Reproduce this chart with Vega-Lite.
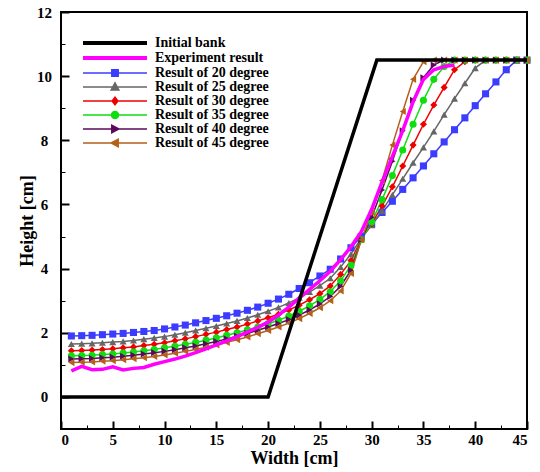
{
"$schema": "https://vega.github.io/schema/vega-lite/v6.json",
"width": 466, "height": 417,
"autosize": "none",
"padding": {"left": 61, "top": 12, "right": 13, "bottom": 43},
"background": "white",
"config": {"view": {"stroke": "black", "strokeWidth": 2}, "font": "Liberation Serif"},
"datasets": {
"bank": [{"s":"Initial bank","x":0,"y":0},{"s":"Initial bank","x":20,"y":0},{"s":"Initial bank","x":30.5,"y":10.5},{"s":"Initial bank","x":45,"y":10.5}],
"exp": [
{"s":"Experiment result","x":1,"y":0.81},{"s":"Experiment result","x":2,"y":0.95},{"s":"Experiment result","x":3,"y":0.85},{"s":"Experiment result","x":4,"y":0.86},{"s":"Experiment result","x":5,"y":0.94},{"s":"Experiment result","x":6,"y":0.84},{"s":"Experiment result","x":7,"y":0.89},{"s":"Experiment result","x":8,"y":0.92},{"s":"Experiment result","x":9,"y":1.02},{"s":"Experiment result","x":10,"y":1.10},
{"s":"Experiment result","x":11,"y":1.18},{"s":"Experiment result","x":12,"y":1.27},{"s":"Experiment result","x":13,"y":1.38},{"s":"Experiment result","x":14,"y":1.50},{"s":"Experiment result","x":15,"y":1.62},{"s":"Experiment result","x":16,"y":1.75},{"s":"Experiment result","x":17,"y":1.88},{"s":"Experiment result","x":18,"y":2.02},{"s":"Experiment result","x":19,"y":2.17},{"s":"Experiment result","x":20,"y":2.33},
{"s":"Experiment result","x":21,"y":2.55},{"s":"Experiment result","x":22,"y":2.80},{"s":"Experiment result","x":23,"y":3.08},{"s":"Experiment result","x":24,"y":3.35},{"s":"Experiment result","x":25,"y":3.62},{"s":"Experiment result","x":26,"y":3.92},{"s":"Experiment result","x":27,"y":4.28},{"s":"Experiment result","x":28,"y":4.68},{"s":"Experiment result","x":29,"y":5.15},{"s":"Experiment result","x":30,"y":5.85},
{"s":"Experiment result","x":31,"y":6.70},{"s":"Experiment result","x":32,"y":7.50},{"s":"Experiment result","x":33,"y":8.30},{"s":"Experiment result","x":34,"y":9.20},{"s":"Experiment result","x":35,"y":9.90},{"s":"Experiment result","x":36,"y":10.20},{"s":"Experiment result","x":37,"y":10.30},{"s":"Experiment result","x":38,"y":10.35}],
"model": [
{"s":"Result of 20 degree","x":1,"y":1.90},{"s":"Result of 20 degree","x":2,"y":1.91},{"s":"Result of 20 degree","x":3,"y":1.92},{"s":"Result of 20 degree","x":4,"y":1.94},{"s":"Result of 20 degree","x":5,"y":1.96},{"s":"Result of 20 degree","x":6,"y":1.98},{"s":"Result of 20 degree","x":7,"y":2.01},{"s":"Result of 20 degree","x":8,"y":2.04},{"s":"Result of 20 degree","x":9,"y":2.07},{"s":"Result of 20 degree","x":10,"y":2.12},
{"s":"Result of 20 degree","x":11,"y":2.18},{"s":"Result of 20 degree","x":12,"y":2.24},{"s":"Result of 20 degree","x":13,"y":2.31},{"s":"Result of 20 degree","x":14,"y":2.38},{"s":"Result of 20 degree","x":15,"y":2.45},{"s":"Result of 20 degree","x":16,"y":2.53},{"s":"Result of 20 degree","x":17,"y":2.61},{"s":"Result of 20 degree","x":18,"y":2.70},{"s":"Result of 20 degree","x":19,"y":2.80},{"s":"Result of 20 degree","x":20,"y":2.92},
{"s":"Result of 20 degree","x":21,"y":3.05},{"s":"Result of 20 degree","x":22,"y":3.20},{"s":"Result of 20 degree","x":23,"y":3.38},{"s":"Result of 20 degree","x":24,"y":3.56},{"s":"Result of 20 degree","x":25,"y":3.77},{"s":"Result of 20 degree","x":26,"y":3.98},{"s":"Result of 20 degree","x":27,"y":4.30},{"s":"Result of 20 degree","x":28,"y":4.65},{"s":"Result of 20 degree","x":29,"y":5.00},{"s":"Result of 20 degree","x":30,"y":5.38},
{"s":"Result of 20 degree","x":31,"y":5.75},{"s":"Result of 20 degree","x":32,"y":6.10},{"s":"Result of 20 degree","x":33,"y":6.47},{"s":"Result of 20 degree","x":34,"y":6.83},{"s":"Result of 20 degree","x":35,"y":7.20},{"s":"Result of 20 degree","x":36,"y":7.58},{"s":"Result of 20 degree","x":37,"y":7.95},{"s":"Result of 20 degree","x":38,"y":8.33},{"s":"Result of 20 degree","x":39,"y":8.70},{"s":"Result of 20 degree","x":40,"y":9.08},
{"s":"Result of 20 degree","x":41,"y":9.45},{"s":"Result of 20 degree","x":42,"y":9.82},{"s":"Result of 20 degree","x":43,"y":10.20},{"s":"Result of 20 degree","x":44,"y":10.50},{"s":"Result of 20 degree","x":45,"y":10.50},
{"s":"Result of 25 degree","x":1,"y":1.65},{"s":"Result of 25 degree","x":2,"y":1.66},{"s":"Result of 25 degree","x":3,"y":1.67},{"s":"Result of 25 degree","x":4,"y":1.69},{"s":"Result of 25 degree","x":5,"y":1.71},{"s":"Result of 25 degree","x":6,"y":1.73},{"s":"Result of 25 degree","x":7,"y":1.76},{"s":"Result of 25 degree","x":8,"y":1.80},{"s":"Result of 25 degree","x":9,"y":1.84},{"s":"Result of 25 degree","x":10,"y":1.88},
{"s":"Result of 25 degree","x":11,"y":1.94},{"s":"Result of 25 degree","x":12,"y":2.00},{"s":"Result of 25 degree","x":13,"y":2.07},{"s":"Result of 25 degree","x":14,"y":2.14},{"s":"Result of 25 degree","x":15,"y":2.21},{"s":"Result of 25 degree","x":16,"y":2.29},{"s":"Result of 25 degree","x":17,"y":2.37},{"s":"Result of 25 degree","x":18,"y":2.46},{"s":"Result of 25 degree","x":19,"y":2.56},{"s":"Result of 25 degree","x":20,"y":2.67},
{"s":"Result of 25 degree","x":21,"y":2.79},{"s":"Result of 25 degree","x":22,"y":2.93},{"s":"Result of 25 degree","x":23,"y":3.09},{"s":"Result of 25 degree","x":24,"y":3.27},{"s":"Result of 25 degree","x":25,"y":3.47},{"s":"Result of 25 degree","x":26,"y":3.70},{"s":"Result of 25 degree","x":27,"y":4.05},{"s":"Result of 25 degree","x":28,"y":4.45},{"s":"Result of 25 degree","x":29,"y":4.95},{"s":"Result of 25 degree","x":30,"y":5.35},
{"s":"Result of 25 degree","x":31,"y":5.80},{"s":"Result of 25 degree","x":32,"y":6.30},{"s":"Result of 25 degree","x":33,"y":6.80},{"s":"Result of 25 degree","x":34,"y":7.30},{"s":"Result of 25 degree","x":35,"y":7.78},{"s":"Result of 25 degree","x":36,"y":8.28},{"s":"Result of 25 degree","x":37,"y":8.80},{"s":"Result of 25 degree","x":38,"y":9.30},{"s":"Result of 25 degree","x":39,"y":9.78},{"s":"Result of 25 degree","x":40,"y":10.25},
{"s":"Result of 25 degree","x":41,"y":10.50},{"s":"Result of 25 degree","x":42,"y":10.50},{"s":"Result of 25 degree","x":43,"y":10.50},{"s":"Result of 25 degree","x":44,"y":10.50},{"s":"Result of 25 degree","x":45,"y":10.50},
{"s":"Result of 30 degree","x":1,"y":1.44},{"s":"Result of 30 degree","x":2,"y":1.45},{"s":"Result of 30 degree","x":3,"y":1.46},{"s":"Result of 30 degree","x":4,"y":1.48},{"s":"Result of 30 degree","x":5,"y":1.50},{"s":"Result of 30 degree","x":6,"y":1.53},{"s":"Result of 30 degree","x":7,"y":1.56},{"s":"Result of 30 degree","x":8,"y":1.60},{"s":"Result of 30 degree","x":9,"y":1.64},{"s":"Result of 30 degree","x":10,"y":1.69},
{"s":"Result of 30 degree","x":11,"y":1.75},{"s":"Result of 30 degree","x":12,"y":1.81},{"s":"Result of 30 degree","x":13,"y":1.88},{"s":"Result of 30 degree","x":14,"y":1.95},{"s":"Result of 30 degree","x":15,"y":2.02},{"s":"Result of 30 degree","x":16,"y":2.10},{"s":"Result of 30 degree","x":17,"y":2.18},{"s":"Result of 30 degree","x":18,"y":2.27},{"s":"Result of 30 degree","x":19,"y":2.37},{"s":"Result of 30 degree","x":20,"y":2.47},
{"s":"Result of 30 degree","x":21,"y":2.58},{"s":"Result of 30 degree","x":22,"y":2.71},{"s":"Result of 30 degree","x":23,"y":2.86},{"s":"Result of 30 degree","x":24,"y":3.03},{"s":"Result of 30 degree","x":25,"y":3.22},{"s":"Result of 30 degree","x":26,"y":3.46},{"s":"Result of 30 degree","x":27,"y":3.82},{"s":"Result of 30 degree","x":28,"y":4.25},{"s":"Result of 30 degree","x":29,"y":4.92},{"s":"Result of 30 degree","x":30,"y":5.40},
{"s":"Result of 30 degree","x":31,"y":5.95},{"s":"Result of 30 degree","x":32,"y":6.55},{"s":"Result of 30 degree","x":33,"y":7.20},{"s":"Result of 30 degree","x":34,"y":7.85},{"s":"Result of 30 degree","x":35,"y":8.50},{"s":"Result of 30 degree","x":36,"y":9.10},{"s":"Result of 30 degree","x":37,"y":9.65},{"s":"Result of 30 degree","x":38,"y":10.20},{"s":"Result of 30 degree","x":39,"y":10.45},{"s":"Result of 30 degree","x":40,"y":10.50},
{"s":"Result of 30 degree","x":41,"y":10.50},{"s":"Result of 30 degree","x":42,"y":10.50},{"s":"Result of 30 degree","x":43,"y":10.50},{"s":"Result of 30 degree","x":44,"y":10.50},{"s":"Result of 30 degree","x":45,"y":10.50},
{"s":"Result of 35 degree","x":1,"y":1.28},{"s":"Result of 35 degree","x":2,"y":1.29},{"s":"Result of 35 degree","x":3,"y":1.30},{"s":"Result of 35 degree","x":4,"y":1.32},{"s":"Result of 35 degree","x":5,"y":1.34},{"s":"Result of 35 degree","x":6,"y":1.37},{"s":"Result of 35 degree","x":7,"y":1.40},{"s":"Result of 35 degree","x":8,"y":1.44},{"s":"Result of 35 degree","x":9,"y":1.48},{"s":"Result of 35 degree","x":10,"y":1.53},
{"s":"Result of 35 degree","x":11,"y":1.58},{"s":"Result of 35 degree","x":12,"y":1.64},{"s":"Result of 35 degree","x":13,"y":1.70},{"s":"Result of 35 degree","x":14,"y":1.77},{"s":"Result of 35 degree","x":15,"y":1.84},{"s":"Result of 35 degree","x":16,"y":1.92},{"s":"Result of 35 degree","x":17,"y":2.00},{"s":"Result of 35 degree","x":18,"y":2.09},{"s":"Result of 35 degree","x":19,"y":2.18},{"s":"Result of 35 degree","x":20,"y":2.28},
{"s":"Result of 35 degree","x":21,"y":2.39},{"s":"Result of 35 degree","x":22,"y":2.52},{"s":"Result of 35 degree","x":23,"y":2.67},{"s":"Result of 35 degree","x":24,"y":2.84},{"s":"Result of 35 degree","x":25,"y":3.04},{"s":"Result of 35 degree","x":26,"y":3.28},{"s":"Result of 35 degree","x":27,"y":3.62},{"s":"Result of 35 degree","x":28,"y":4.10},{"s":"Result of 35 degree","x":29,"y":4.90},{"s":"Result of 35 degree","x":30,"y":5.45},
{"s":"Result of 35 degree","x":31,"y":6.15},{"s":"Result of 35 degree","x":32,"y":6.90},{"s":"Result of 35 degree","x":33,"y":7.70},{"s":"Result of 35 degree","x":34,"y":8.50},{"s":"Result of 35 degree","x":35,"y":9.25},{"s":"Result of 35 degree","x":36,"y":9.90},{"s":"Result of 35 degree","x":37,"y":10.30},{"s":"Result of 35 degree","x":38,"y":10.50},{"s":"Result of 35 degree","x":39,"y":10.50},{"s":"Result of 35 degree","x":40,"y":10.50},
{"s":"Result of 35 degree","x":41,"y":10.50},{"s":"Result of 35 degree","x":42,"y":10.50},{"s":"Result of 35 degree","x":43,"y":10.50},{"s":"Result of 35 degree","x":44,"y":10.50},{"s":"Result of 35 degree","x":45,"y":10.50},
{"s":"Result of 40 degree","x":1,"y":1.18},{"s":"Result of 40 degree","x":2,"y":1.19},{"s":"Result of 40 degree","x":3,"y":1.20},{"s":"Result of 40 degree","x":4,"y":1.22},{"s":"Result of 40 degree","x":5,"y":1.24},{"s":"Result of 40 degree","x":6,"y":1.27},{"s":"Result of 40 degree","x":7,"y":1.30},{"s":"Result of 40 degree","x":8,"y":1.34},{"s":"Result of 40 degree","x":9,"y":1.38},{"s":"Result of 40 degree","x":10,"y":1.42},
{"s":"Result of 40 degree","x":11,"y":1.47},{"s":"Result of 40 degree","x":12,"y":1.53},{"s":"Result of 40 degree","x":13,"y":1.59},{"s":"Result of 40 degree","x":14,"y":1.66},{"s":"Result of 40 degree","x":15,"y":1.73},{"s":"Result of 40 degree","x":16,"y":1.81},{"s":"Result of 40 degree","x":17,"y":1.89},{"s":"Result of 40 degree","x":18,"y":1.98},{"s":"Result of 40 degree","x":19,"y":2.08},{"s":"Result of 40 degree","x":20,"y":2.18},
{"s":"Result of 40 degree","x":21,"y":2.29},{"s":"Result of 40 degree","x":22,"y":2.41},{"s":"Result of 40 degree","x":23,"y":2.55},{"s":"Result of 40 degree","x":24,"y":2.71},{"s":"Result of 40 degree","x":25,"y":2.90},{"s":"Result of 40 degree","x":26,"y":3.13},{"s":"Result of 40 degree","x":27,"y":3.45},{"s":"Result of 40 degree","x":28,"y":3.95},{"s":"Result of 40 degree","x":29,"y":4.90},{"s":"Result of 40 degree","x":30,"y":5.60},
{"s":"Result of 40 degree","x":31,"y":6.45},{"s":"Result of 40 degree","x":32,"y":7.35},{"s":"Result of 40 degree","x":33,"y":8.30},{"s":"Result of 40 degree","x":34,"y":9.25},{"s":"Result of 40 degree","x":35,"y":9.95},{"s":"Result of 40 degree","x":36,"y":10.35},{"s":"Result of 40 degree","x":37,"y":10.50},{"s":"Result of 40 degree","x":38,"y":10.50},{"s":"Result of 40 degree","x":39,"y":10.50},{"s":"Result of 40 degree","x":40,"y":10.50},
{"s":"Result of 40 degree","x":41,"y":10.50},{"s":"Result of 40 degree","x":42,"y":10.50},{"s":"Result of 40 degree","x":43,"y":10.50},{"s":"Result of 40 degree","x":44,"y":10.50},{"s":"Result of 40 degree","x":45,"y":10.50},
{"s":"Result of 45 degree","x":1,"y":1.07},{"s":"Result of 45 degree","x":2,"y":1.08},{"s":"Result of 45 degree","x":3,"y":1.09},{"s":"Result of 45 degree","x":4,"y":1.11},{"s":"Result of 45 degree","x":5,"y":1.13},{"s":"Result of 45 degree","x":6,"y":1.16},{"s":"Result of 45 degree","x":7,"y":1.19},{"s":"Result of 45 degree","x":8,"y":1.22},{"s":"Result of 45 degree","x":9,"y":1.26},{"s":"Result of 45 degree","x":10,"y":1.31},
{"s":"Result of 45 degree","x":11,"y":1.36},{"s":"Result of 45 degree","x":12,"y":1.42},{"s":"Result of 45 degree","x":13,"y":1.48},{"s":"Result of 45 degree","x":14,"y":1.55},{"s":"Result of 45 degree","x":15,"y":1.62},{"s":"Result of 45 degree","x":16,"y":1.70},{"s":"Result of 45 degree","x":17,"y":1.78},{"s":"Result of 45 degree","x":18,"y":1.87},{"s":"Result of 45 degree","x":19,"y":1.97},{"s":"Result of 45 degree","x":20,"y":2.07},
{"s":"Result of 45 degree","x":21,"y":2.18},{"s":"Result of 45 degree","x":22,"y":2.30},{"s":"Result of 45 degree","x":23,"y":2.44},{"s":"Result of 45 degree","x":24,"y":2.60},{"s":"Result of 45 degree","x":25,"y":2.78},{"s":"Result of 45 degree","x":26,"y":3.00},{"s":"Result of 45 degree","x":27,"y":3.30},{"s":"Result of 45 degree","x":28,"y":3.85},{"s":"Result of 45 degree","x":29,"y":4.90},{"s":"Result of 45 degree","x":30,"y":5.75},
{"s":"Result of 45 degree","x":31,"y":6.75},{"s":"Result of 45 degree","x":32,"y":7.85},{"s":"Result of 45 degree","x":33,"y":8.90},{"s":"Result of 45 degree","x":34,"y":9.90},{"s":"Result of 45 degree","x":35,"y":10.45},{"s":"Result of 45 degree","x":36,"y":10.50},{"s":"Result of 45 degree","x":37,"y":10.50},{"s":"Result of 45 degree","x":38,"y":10.50},{"s":"Result of 45 degree","x":39,"y":10.50},{"s":"Result of 45 degree","x":40,"y":10.50},
{"s":"Result of 45 degree","x":41,"y":10.50},{"s":"Result of 45 degree","x":42,"y":10.50},{"s":"Result of 45 degree","x":43,"y":10.50},{"s":"Result of 45 degree","x":44,"y":10.50},{"s":"Result of 45 degree","x":45,"y":10.50}
]
},
"layer": [
{
"data": {"name": "model"},
"mark": {"type": "line", "strokeWidth": 1.5},
"encoding": {
"x": {"field": "x", "type": "quantitative", "scale": {"domain": [0, 45], "nice": false}, "axis": null},
"y": {"field": "y", "type": "quantitative", "scale": {"domain": [-1, 12], "nice": false}, "axis": null},
"color": {"field": "s", "type": "nominal", "scale": {"domain": ["Initial bank","Experiment result","Result of 20 degree","Result of 25 degree","Result of 30 degree","Result of 35 degree","Result of 40 degree","Result of 45 degree"], "range": ["#000000","#ff00ff","#3c3cff","#666666","#ee0000","#10dd10","#5a0a5a","#b5601a"]},
 "legend": {
  "orient": "none", "legendX": 47, "legendY": 24, "title": null, "padding": 0,
  "values": ["Initial bank","Experiment result","Result of 20 degree","Result of 25 degree","Result of 30 degree","Result of 35 degree","Result of 40 degree","Result of 45 degree"],
  "symbolSize": 4096, "symbolType": "M-1,0H1", "labelFont": "Liberation Serif", "labelFontWeight": "bold", "labelFontSize": 14, "labelColor": "black", "labelOffset": 33, "rowPadding": -2,
  "encode": {"symbols": {"update": {
    "shape": {"signal": "datum.value == 'Result of 20 degree' ? 'M-1,0H1M-0.1,-0.1H0.1V0.1H-0.1Z' : datum.value == 'Result of 25 degree' ? 'M-1,0H1M0,-0.13L0.12,0.09H-0.12Z' : datum.value == 'Result of 30 degree' ? 'M-1,0H1M0,-0.12L0.09,0L0,0.12L-0.09,0Z' : datum.value == 'Result of 35 degree' ? 'M-1,0H1M0.11,0A0.11,0.11,0,1,1,-0.11,0A0.11,0.11,0,1,1,0.11,0Z' : datum.value == 'Result of 40 degree' ? 'M-1,0H1M0.12,0L-0.1,-0.12V0.12Z' : datum.value == 'Result of 45 degree' ? 'M-1,0H1M-0.12,0L0.1,-0.12V0.12Z' : 'M-1,0H1'"},
    "fill": {"signal": "scale('color', datum.value)"},
    "stroke": {"signal": "scale('color', datum.value)"},
    "strokeWidth": {"signal": "datum.value == 'Initial bank' || datum.value == 'Experiment result' ? 4 : 1.5"},
    "size": {"value": 4096},
    "opacity": {"value": 1}
  }}}
 }},
"detail": {"field": "s"}
}
},
{
"data": {"name": "model"},
"mark": {"type": "point", "filled": true, "opacity": 1, "size": 50},
"encoding": {
"x": {"field": "x", "type": "quantitative", "axis": null},
"y": {"field": "y", "type": "quantitative", "axis": null},
"color": {"field": "s", "type": "nominal"},
"shape": {"field": "s", "type": "nominal", "legend": null, "scale": {"domain": ["Result of 20 degree","Result of 25 degree","Result of 30 degree","Result of 35 degree","Result of 40 degree","Result of 45 degree"], "range": ["square","triangle-up","diamond","circle","triangle-right","triangle-left"]}}
}
},
{
"data": {"name": "exp"},
"mark": {"type": "line", "strokeWidth": 3.5},
"encoding": {
"x": {"field": "x", "type": "quantitative", "axis": null},
"y": {"field": "y", "type": "quantitative", "axis": null},
"color": {"field": "s", "type": "nominal"}
}
},
{
"data": {"name": "bank"},
"mark": {"type": "line", "strokeWidth": 3.5},
"encoding": {
"x": {"field": "x", "type": "quantitative", "axis": {"orient": "bottom", "values": [0,5,10,15,20,25,30,35,40,45], "domain": false, "grid": false, "tickSize": -8, "tickColor": "black", "tickWidth": 2, "labelPadding": 11, "labelFont": "Liberation Serif", "labelFontWeight": "bold", "labelFontSize": 15, "labelColor": "black", "title": "Width [cm]", "titleFont": "Liberation Serif", "titleFontWeight": "bold", "titleFontSize": 18, "titleColor": "black", "titlePadding": 2}},
"y": {"field": "y", "type": "quantitative", "axis": {"orient": "left", "values": [0,2,4,6,8,10,12], "domain": false, "grid": false, "tickSize": -8, "tickColor": "black", "tickWidth": 2, "labelPadding": 25, "labelAlign": "center", "labelFont": "Liberation Serif", "labelFontWeight": "bold", "labelFontSize": 15, "labelColor": "black", "title": "Height [cm]", "titleFont": "Liberation Serif", "titleFontWeight": "bold", "titleFontSize": 18, "titleColor": "black", "titleX": -34, "titleBaseline": "middle"}},
"color": {"field": "s", "type": "nominal"}
}
},
{
"data": {"name": "bank"},
"mark": {"type": "point", "opacity": 0},
"encoding": {
"x": {"field": "x", "type": "quantitative", "axis": {"orient": "bottom", "values": [2.5,7.5,12.5,17.5,22.5,27.5,32.5,37.5,42.5], "domain": false, "grid": false, "labels": false, "tickSize": -4, "tickColor": "black", "tickWidth": 1, "title": null}},
"y": {"field": "y", "type": "quantitative", "axis": {"orient": "left", "values": [-1,1,3,5,7,9,11], "domain": false, "grid": false, "labels": false, "tickSize": -4, "tickColor": "black", "tickWidth": 1, "title": null}}
}
}
],
"resolve": {"axis": {"x": "independent", "y": "independent"}}
}
